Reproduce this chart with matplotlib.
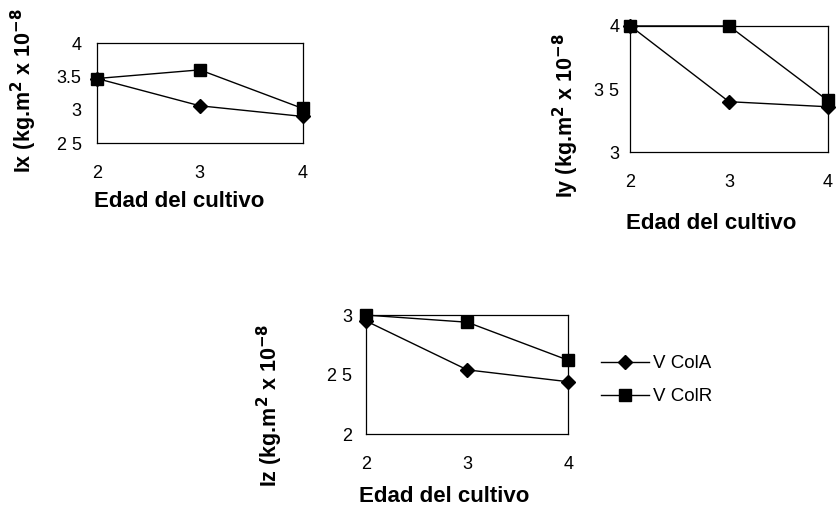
import matplotlib.pyplot as plt

plt.rcParams['font.family'] = ['Liberation Sans', 'DejaVu Sans']

edad = [2, 3, 4]

ix_cola = [3.47, 3.06, 2.90]
ix_colr = [3.47, 3.60, 3.02]
iy_cola = [4.0, 3.40, 3.36]
iy_colr = [4.0, 4.0, 3.41]
iz_cola = [2.95, 2.54, 2.44]
iz_colr = [3.0, 2.94, 2.62]

series_names = ["V ColA", "V ColR"]

ix_ticks = [2.5, 3, 3.5, 4]
ix_ticklabels = ["2 5", "3", "3.5", "4"]
iy_ticks = [3, 3.5, 4]
iy_ticklabels = ["3", "3 5", "4"]
iz_ticks = [2, 2.5, 3]
iz_ticklabels = ["2", "2 5", "3"]

fig = plt.figure(figsize=(8.36, 5.09), dpi=100)

ax1 = fig.add_axes([0.116, 0.719, 0.246, 0.196])
ax2 = fig.add_axes([0.754, 0.701, 0.236, 0.248])
ax3 = fig.add_axes([0.438, 0.147, 0.242, 0.234])


def draw(ax, a, r, ticks, ticklabels, ylabel, ypad, ylab_xy, xlab_xy):
    la, = ax.plot(edad, a, color='black', lw=1.0, marker='D', ms=7,
                  mfc='black', mec='black', clip_on=False, zorder=3)
    lr, = ax.plot(edad, r, color='black', lw=1.0, marker='s', ms=9,
                  mfc='black', mec='black', clip_on=False, zorder=3)
    ax.set_xlim(2, 4)
    ax.set_ylim(ticks[0], ticks[-1])
    ax.set_xticks(edad)
    ax.set_yticks(ticks)
    ax.set_yticklabels(ticklabels)
    ax.tick_params(axis='both', length=0, labelsize=13)
    ax.tick_params(axis='x', pad=16)
    ax.tick_params(axis='y', pad=ypad)
    for s in ax.spines.values():
        s.set_linewidth(0.9)
        s.set_color('black')
    ax.set_ylabel(ylabel, fontsize=15.5, fontweight='bold')
    ax.yaxis.set_label_coords(*ylab_xy)
    ax.set_xlabel("Edad del cultivo", fontsize=16, fontweight='bold')
    ax.xaxis.set_label_coords(*xlab_xy)
    return la, lr


ylab = " (kg.m$^\\mathbf{2}$ x 10$^\\mathbf{-8}$"

draw(ax1, ix_cola, ix_colr, ix_ticks, ix_ticklabels,
     "Ix" + ylab, 11, (-0.28, 0.52), (0.40, -0.48))
draw(ax2, iy_cola, iy_colr, iy_ticks, iy_ticklabels,
     "Iy" + ylab, 8, (-0.25, 0.29), (0.41, -0.48))
la, lr = draw(ax3, iz_cola, iz_colr, iz_ticks, iz_ticklabels,
              "Iz" + ylab, 10, (-0.40, 0.24), (0.385, -0.437))

fig.legend([la, lr], series_names, loc='upper left',
           bbox_to_anchor=(0.708, 0.321), frameon=False, fontsize=13.5,
           borderpad=0, handlelength=2.56, handletextpad=0.2,
           labelspacing=0.85)

fig.savefig("out.png", dpi=100)
